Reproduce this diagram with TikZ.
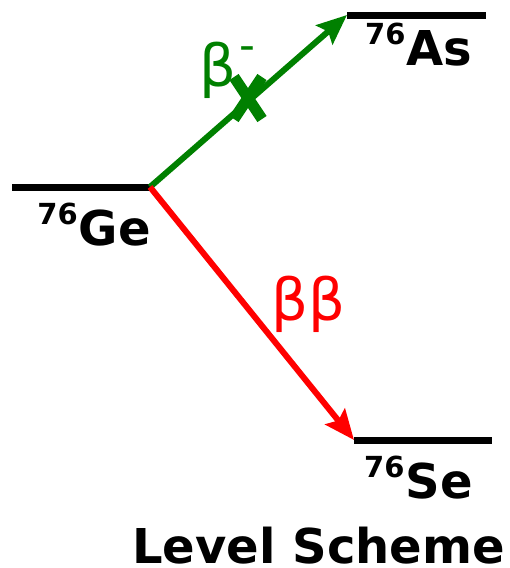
\documentclass[tikz,border=0pt]{standalone}
\usepackage{fontspec}
\setmainfont{DejaVu Sans}
\usetikzlibrary{arrows.meta}

\definecolor{betagreen}{RGB}{0,128,0}
\newcommand{\isotope}[2]{\raisebox{21pt}{\fontsize{29}{29}\selectfont #1}\hspace{1pt}#2}

\begin{document}
\begin{tikzpicture}[
  x=1pt, y=-1pt,
  level/.style={line width=7pt},
  decay/.style={line width=6pt, -{Stealth[length=30pt, width=25pt, inset=5pt]}},
  nuc/.style={inner sep=0pt, font=\fontsize{48}{48}\selectfont\bfseries},
  decaylbl/.style={inner sep=0pt, font=\fontsize{58}{58}\selectfont}
]
  \useasboundingbox (0,0) rectangle (510,568);

  % energy levels
  \coordinate (ge-l) at (12,187);   \coordinate (ge-r) at (150,187);
  \coordinate (as-l) at (347,15);   \coordinate (as-r) at (486,15);
  \coordinate (se-l) at (354,440);  \coordinate (se-r) at (492,440);
  \draw[level] (ge-l) -- (ge-r);
  \draw[level] (as-l) -- (as-r);
  \draw[level] (se-l) -- (se-r);

  \node[nuc, anchor=base east] (ge) at (151,245) {\isotope{76}{Ge}};
  \node[nuc, anchor=base west] (as) at (365,65) {\isotope{76}{As}};
  \node[nuc, anchor=base west] (se) at (364,498) {\isotope{76}{Se}};

  % decays
  \draw[decay, betagreen] (ge-r) -- (as-l);
  \draw[decay, red] (ge-r) -- (se-l);

  % forbidden single beta decay
  \coordinate (cross) at (248,98);
  \draw[betagreen, line width=11pt] ([shift={(-14,-21)}]cross) -- ([shift={(14,21)}]cross);
  \draw[betagreen, line width=11pt] ([shift={(-14,21)}]cross) -- ([shift={(14,-21)}]cross);

  \node[decaylbl, anchor=base west, text=betagreen] (bminus) at (199,86)
    {β\hspace{3pt}\raisebox{26pt}{\fontsize{44}{44}\selectfont -}};
  \node[decaylbl, anchor=base west, text=red] (bb) at (271,320) {ββ};

  \node[nuc, anchor=base east] (title) at (505,563) {Level Scheme};
\end{tikzpicture}
\end{document}
